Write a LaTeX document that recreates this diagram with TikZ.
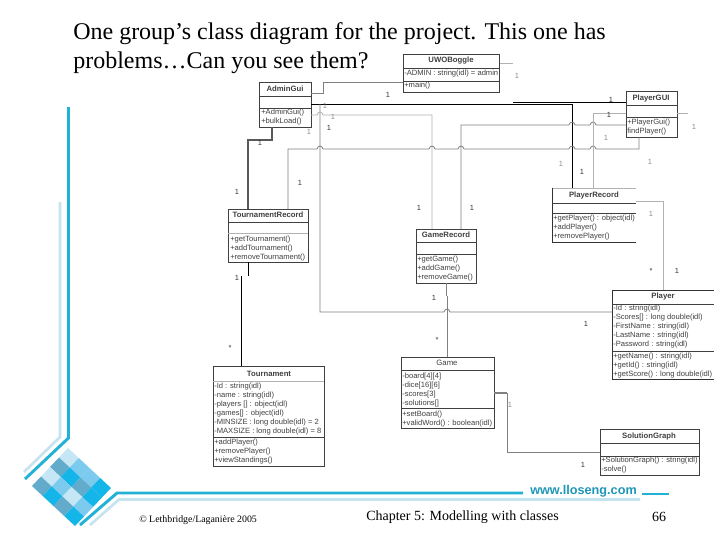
\documentclass[tikz,border=0pt]{standalone}
\usepackage{fontspec}
\setmainfont{Liberation Serif}
\newfontfamily\umlfont{Liberation Sans}
\definecolor{slideblue}{HTML}{22B2D6}
\definecolor{slidelight}{HTML}{C6E4F0}
\definecolor{dstrong}{HTML}{14B6EA}
\definecolor{dmid}{HTML}{7CCBEE}
\definecolor{dlight}{HTML}{C4E6F5}
\definecolor{dgrey}{HTML}{62ABCB}
\definecolor{umltext}{HTML}{404040}
\newcommand{\mystrut}{\rule{0pt}{4.6pt}}
\newcommand{\hopx}[2]{-- ({#1-3},#2) .. controls ({#1-2},{#2-4}) and ({#1+2},{#2-4}) .. ({#1+3},#2)}
\newcommand{\cls}[6][classbox]{\node[#1,minimum width={(#5-#3)*0.75pt},minimum height={(#6-#4)*0.75pt}] (#2) at ({(#3+#5)/2},{(#4+#6)/2}) {};}
\tikzset{
  classbox/.style={draw=black!75,line width=0.6pt,inner sep=0pt,outer sep=0pt},
  openbox/.style={inner sep=0pt,outer sep=0pt},
  divline/.style={draw=black!75,line width=0.55pt},
  edgeline/.style={draw=black!80,line width=0.6pt},
  ctitle/.style={font=\umlfont\bfseries\fontsize{5.8}{6.75}\selectfont,text=umltext,inner sep=0pt},
  cbody/.style={font=\umlfont\fontsize{5.7}{6.75}\selectfont,text=umltext,inner sep=0pt,anchor=north west,align=left},
  greyconn/.style={draw=black!50,line width=0.6pt},
  lightconn/.style={draw=black!30,line width=0.6pt},
  darkconn/.style={draw=black!65,line width=1.1pt},
  blackconn/.style={draw=black,line width=0.75pt},
  mult/.style={font=\umlfont\fontsize{5.6}{6}\selectfont,text=black!80,inner sep=0pt},
  multl/.style={font=\umlfont\fontsize{5.6}{6}\selectfont,text=black!45,inner sep=0pt},
  title/.style={font=\fontsize{18}{21.75}\selectfont,anchor=north west,inner sep=0pt,align=left},
  sline/.style={draw=slideblue,line width=2.2pt},
  lline/.style={draw=slidelight,line width=2pt},
}
\begin{document}
\begin{tikzpicture}[x=0.75pt,y=-0.75pt]
\useasboundingbox (0,0) rectangle (720,540);
\fill[white] (0,0) rectangle (720,540);
% slide frame
\draw[lline] (60,202) -- (60,437) -- (24,472);
\draw[sline] (68.5,107) -- (68.5,438) -- (25,479);
\draw[lline] (90,525) -- (119,499.5) -- (640,499.5);
\draw[sline] (80,525) -- (117,493) -- (523,493);
\draw[draw=slideblue,line width=2pt] (642,494) -- (669,494);
% diamond
\begin{scope}[shift={(68,448)},x={(8.06pt,-7.5pt)},y={(-6.75pt,-7.125pt)}]
\foreach \i/\j/\c in {0/0/dlight,1/0/dmid,2/0/dmid,3/0/dstrong,
  0/1/dgrey,1/1/dstrong,2/1/dgrey,3/1/dstrong,
  0/2/dlight,1/2/dmid,2/2/dlight,3/2/dmid,
  0/3/dgrey,1/3/dstrong,2/3/dgrey,3/3/dstrong}
  \fill[\c] (\i,\j) -- ++(1,0) -- ++(0,1) -- ++(-1,0) -- cycle;
\end{scope}
% title
\node[title] (heading) at (73,22) {One group’s class diagram for the project. This one has\\problems…Can you see them?};
% classes
\cls{admin}{259}{82}{311}{127}
\cls{uwo}{403}{54}{499.5}{92}
\cls{playergui}{626}{91}{677}{137}
\cls[openbox]{playerrec}{552}{188}{636}{242}
\cls{gamerec}{416}{229}{476}{283}
\cls{tourrec}{228}{209}{308}{262}
\cls[openbox]{player}{612}{290}{714}{379}
\cls{tour}{213}{366}{324}{466}
\cls{game}{401}{357}{494}{428}
\cls{solution}{600}{429}{699}{475}
% open box edges
\draw[lightconn] (playerrec.north west) -- (playerrec.north east);
\draw[edgeline] (playerrec.north west) -- (playerrec.south west) -- (playerrec.south east);
\draw[edgeline] (player.south east) -- (player.south west) -- (player.north west) -- (player.north east);
% compartments
\draw[divline] (admin.west |- 0,96) -- (admin.east |- 0,96) (admin.west |- 0,108) -- (admin.east |- 0,108);
\draw[divline] (uwo.west |- 0,68) -- (uwo.east |- 0,68) (uwo.west |- 0,81) -- (uwo.east |- 0,81);
\draw[divline] (playergui.west |- 0,105) -- (playergui.east |- 0,105) (playergui.west |- 0,117) -- (playergui.east |- 0,117);
\draw[divline] (playerrec.west |- 0,203) -- (playerrec.east |- 0,203) (playerrec.west |- 0,213) -- (playerrec.east |- 0,213);
\draw[divline] (gamerec.west |- 0,242) -- (gamerec.east |- 0,242) (gamerec.west |- 0,254) -- (gamerec.east |- 0,254);
\draw[divline] (tourrec.west |- 0,222) -- (tourrec.east |- 0,222);
\draw[lightconn] (tourrec.west |- 0,233) -- (tourrec.east |- 0,233);
\draw[divline] (player.west |- 0,304) -- (player.east |- 0,304) (player.west |- 0,351) -- (player.east |- 0,351);
\draw[lightconn] (tour.west |- 0,381) -- (tour.east |- 0,381);
\draw[divline] (tour.west |- 0,437) -- (tour.east |- 0,437);
\draw[divline] (game.west |- 0,370) -- (game.east |- 0,370) (game.west |- 0,408) -- (game.east |- 0,408);
\draw[divline] (solution.west |- 0,443) -- (solution.east |- 0,443) (solution.west |- 0,456) -- (solution.east |- 0,456);
% class titles
\node[ctitle] (admint) at (285,89) {AdminGui};
\node[ctitle] (uwot) at (451,61) {UWOBoggle};
\node[ctitle] (playerguit) at (651,98) {PlayerGUI};
\node[ctitle] (playerrect) at (594,195) {PlayerRecord};
\node[ctitle] (gamerect) at (446,235) {GameRecord};
\node[ctitle] (tourrect) at (268,215) {TournamentRecord};
\node[ctitle] (playert) at (663,296) {Player};
\node[ctitle] (tourt) at (269,374) {Tournament};
\node[ctitle,font=\umlfont\fontsize{5.8}{6.75}\selectfont] (gamet) at (447,363) {Game};
\node[ctitle] (solutiont) at (649,436) {SolutionGraph};
% class bodies
\node[cbody] (adminb) at (261,108) {\mystrut+AdminGui()\\+bulkLoad()};
\node[cbody] (uwob1) at (404,69) {\mystrut-ADMIN : string(idl) = admin};
\node[cbody] (uwob2) at (404,81) {\mystrut+main()};
\node[cbody] (playerguib) at (627,118) {\mystrut+PlayerGui()\\findPlayer()};
\node[cbody] (playerrecb) at (553,214) {\mystrut+getPlayer() : object(idl)\\+addPlayer()\\+removePlayer()};
\node[cbody] (gamerecb) at (417,255) {\mystrut+getGame()\\+addGame()\\+removeGame()};
\node[cbody] (tourrecb) at (230,235) {\mystrut+getTournament()\\+addTournament()\\+removeTournament()};
\node[cbody] (playerb1) at (613,304.5) {\mystrut-Id : string(idl)\\-Scores[] : long double(idl)\\-FirstName : string(idl)\\-LastName : string(idl)\\-Password : string(idl)};
\node[cbody] (playerb2) at (613,352) {\mystrut+getName() : string(idl)\\+getId() : string(idl)\\+getScore() : long double(idl)};
\node[cbody] (tourb1) at (214,382.5) {\mystrut-Id : string(idl)\\-name : string(idl)\\-players [] : object(idl)\\-games[] : object(idl)\\-MINSIZE : long double(idl) = 2\\-MAXSIZE : long double(idl) = 8};
\node[cbody] (tourb2) at (214,438.5) {\mystrut+addPlayer()\\+removePlayer()\\+viewStandings()};
\node[cbody] (gameb1) at (402,372.5) {\mystrut-board[4][4]\\-dice[16][6]\\-scores[3]\\-solutions[]};
\node[cbody] (gameb2) at (402,410.5) {\mystrut+setBoard()\\+validWord() : boolean(idl)};
\node[cbody] (solutionb) at (601,456.5) {\mystrut+SolutionGraph() : string(idl)\\-solve()};
% connectors
\coordinate (uwostub) at (513,63);
\coordinate (guistub) at (688,113);
\coordinate (blackstart) at (513,102);
\draw[greyconn] (admin.east |- 0,93) -- (323,93) -- (323,82) -- (uwo.west |- 0,82);
\draw[lightconn] (uwo.east |- 0,63) -- (uwostub);
\draw[lightconn] (playergui.east |- guistub) -- (guistub);
\draw[blackconn] (blackstart) -- (playergui.west |- blackstart);
\draw[blackconn] (admin.east |- 0,104) -- (572,104) -- (572,188);
\draw[greyconn] (320,104) -- (320,312) \hopx{447}{312} -- (player.west |- 0,312);
\draw[lightconn] (admin.east |- 0,115) \hopx{320}{115} -- (432,115) -- (gamerec.north -| 432,0);
\draw[greyconn] (gamerec.north -| 461,0) -- (461,125) \hopx{572}{125} \hopx{593}{125} -- (playergui.west |- 0,125);
\draw[greyconn] (tourrec.north -| 288,0) -- (288,149) \hopx{320}{149} \hopx{432}{149} \hopx{461}{149} \hopx{572}{149} \hopx{593}{149} -- (639,149) -- (playergui.south -| 639,0);
\draw[lightconn] (playerrec.north -| 593,0) -- (593,113) -- (playergui.west |- 0,113);
\draw[darkconn] (admin.south -| 272,0) -- (272,140) -- (248,140) -- (tourrec.north -| 248,0);
\coordinate (breaka) at (248,276);
\coordinate (breakb) at (241,276);
\draw[blackconn] (tourrec.south -| 248,0) -- (breaka);
\draw[blackconn] (breakb) -- (tour.north -| 241,0);
\coordinate (breakc) at (446,296);
\coordinate (breakd) at (447,296);
\draw[greyconn] (gamerec.south -| 446,0) -- (breakc);
\draw[greyconn,line width=0.75pt] (breakd) -- (game.north -| 447,0);
\draw[greyconn,line width=1pt] (game.east |- 0,393) -- (507,393);
\draw[greyconn] (507,393) -- (507,452) -- (solution.west |- 0,452);
\draw[lightconn] (playerrec.east |- 0,201) -- (663,201) -- (player.north -| 663,0);
% multiplicities
\foreach \x/\y/\t in {388/95/1,329/128/1,260/143/1,237/192/1,419/208/1,472/208/1,
  611/100/1,609/115/1,582/172/1,237/278/1,230/348/*,434/298/1,437/340/*,
  651/271/*,677/271/1,586/324/1,583/465/1,300/183/1}
  \node[mult] at (\x,\y) {\t};
\foreach \x/\y/\t in {325/106/1,333/117/1,309/132/1,517/76/1,606/138/1,694/127/1,650/162/1,561/164/1,651/214/1,510/405/1}
  \node[multl] at (\x,\y) {\t};
% footer
\node[font=\umlfont\bfseries\fontsize{9.5}{11}\selectfont,text=slideblue!85!black,inner sep=0pt] (www) at (583.5,491) {www.lloseng.com};
\node[font=\fontsize{7.4}{9}\selectfont,inner sep=0pt,anchor=west] (copy) at (139,520) {© Lethbridge/Laganière 2005};
\node[font=\fontsize{10.5}{12}\selectfont,inner sep=0pt,anchor=west] (chapter) at (366,517) {Chapter 5: Modelling with classes};
\node[font=\fontsize{10.5}{12}\selectfont,inner sep=0pt] (pagenum) at (659,517) {66};
\end{tikzpicture}
\end{document}
